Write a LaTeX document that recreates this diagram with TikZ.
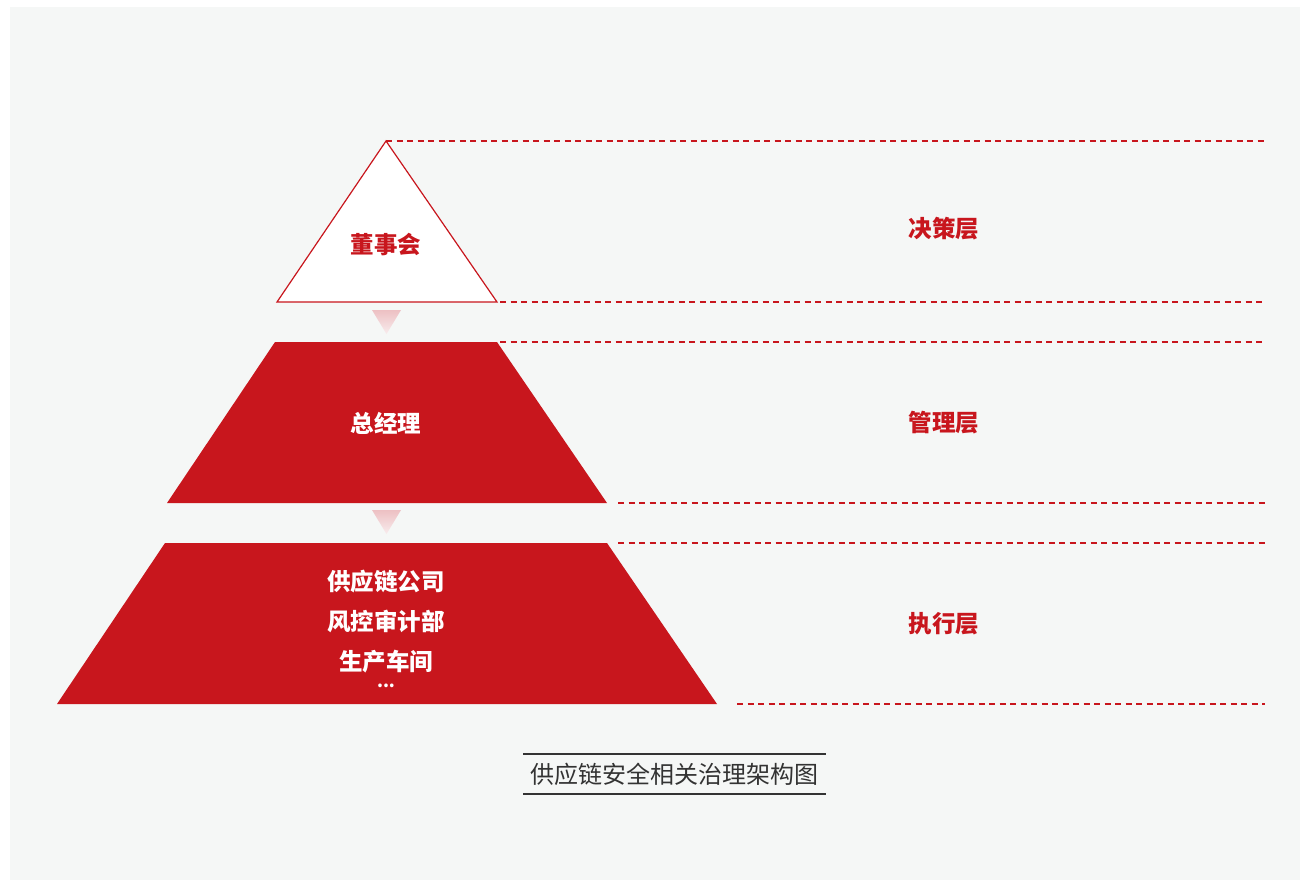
\documentclass[tikz,border=0pt]{standalone}
\usepackage{fontspec}
\setmainfont{Noto Sans CJK SC}
\definecolor{bg}{HTML}{F5F7F6}
\definecolor{cred}{HTML}{C8161D}
\definecolor{capgray}{HTML}{333333}
\definecolor{arrtop}{HTML}{EDC0C3}
\definecolor{arrbot}{HTML}{F8ECED}
\begin{document}
\begin{tikzpicture}[x=1pt,y=-1pt,
  guide/.style={draw=cred,line width=1.1pt,dash pattern=on 6pt off 4.5pt},
  lvl/.style={text=cred,font=\fontsize{23.5}{26}\selectfont\bfseries},
  inner/.style={font=\fontsize{23.5}{40}\selectfont\bfseries,align=center,inner sep=0pt},
  downarr/.style={top color=arrtop,bottom color=arrbot,draw=none,shading angle=0},
  capline/.style={draw=capgray,line width=1.2pt}]
\useasboundingbox (0,0) rectangle (1300,880);
\fill[white] (0,0) rectangle (1300,880);
\fill[bg] (10,7) rectangle (1300,880);
% shapes
\draw[cred,line width=1.2pt,fill=white,line join=miter] (386,141) coordinate (apex) -- (497,302) coordinate (t1r) -- (277,302) -- cycle;
\fill[cred] (275,342) coordinate (t2l) -- (497,342) coordinate (t2r) -- (607,503) coordinate (b2r) -- (167,503) -- cycle;
\fill[cred] (165,543) -- (607,543) coordinate (t3r) -- (717,704) coordinate (b3r) -- (57,704) -- cycle;
% arrows
\shade[downarr] (372,310) -- (401,310) -- (386.5,334) -- cycle;
\shade[downarr] (372,510) -- (401,510) -- (386.5,534) -- cycle;
% dashed guides
\coordinate (e1) at (1265,141);
\coordinate (e2) at (1265,302);
\coordinate (e3) at (1265,342);
\coordinate (e4) at (1265,503);
\coordinate (e5) at (1265,543);
\coordinate (e6) at (1265,704);
\coordinate (s1) at (386,141);
\coordinate (s2) at (500,302);
\coordinate (s3) at (500,342);
\coordinate (s4) at (618,503);
\coordinate (s5) at (618,543);
\coordinate (s6) at (737,704);
\draw[guide] (s1) -- (e1);
\draw[guide] (s2) -- (e2);
\draw[guide] (s3) -- (e3);
\draw[guide] (s4) -- (e4);
\draw[guide] (s5) -- (e5);
\draw[guide] (s6) -- (e6);
% texts
\node[inner,text=cred] (n1) at (386,245) {董事会};
\node[inner,text=white] (n2) at (386,423) {总经理};
\node[inner,text=white] (n3) at (386,622) {供应链公司\\风控审计部\\生产车间};
\node[text=white,font=\fontsize{17}{18}\selectfont\bfseries,inner sep=0pt] (n4) at (386,686) {...};
\node[lvl] (l1) at (944,229) {决策层};
\node[lvl] (l2) at (944,423) {管理层};
\node[lvl] (l3) at (944,624) {执行层};
% caption
\node[text=capgray,font=\fontsize{24}{26}\selectfont,inner sep=0pt] (captxt) at (674.5,774) {供应链安全相关治理架构图};
\coordinate (c1) at (523,754); \coordinate (c2) at (826,754);
\coordinate (c3) at (523,794); \coordinate (c4) at (826,794);
\draw[capline] (c1) -- (c2);
\draw[capline] (c3) -- (c4);
\end{tikzpicture}
\end{document}
